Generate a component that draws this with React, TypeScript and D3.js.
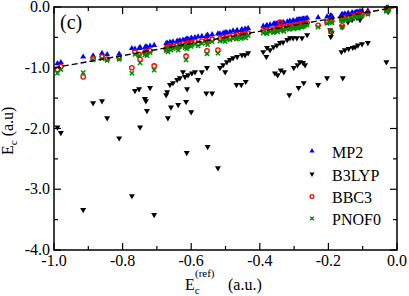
import * as d3 from 'd3';

// E_c(ref) for each system, and the correlation energy given by each method (a.u.)
const refs = [
  -0.990, -0.980, -0.915, -0.886, -0.860, -0.845, -0.810, -0.773, -0.764, -0.752,
  -0.749, -0.735, -0.732, -0.729, -0.720, -0.708, -0.673, -0.670, -0.668, -0.662,
  -0.659, -0.653, -0.641, -0.638, -0.633, -0.624, -0.618, -0.615, -0.613, -0.612,
  -0.609, -0.600, -0.598, -0.589, -0.580, -0.569, -0.554, -0.556, -0.552, -0.539,
  -0.522, -0.516, -0.507, -0.501, -0.496, -0.487, -0.478, -0.466, -0.468, -0.452,
  -0.454, -0.443, -0.441, -0.434, -0.390, -0.379, -0.381, -0.370, -0.360, -0.356,
  -0.350, -0.348, -0.341, -0.339, -0.332, -0.330, -0.320, -0.312, -0.314, -0.303,
  -0.301, -0.292, -0.290, -0.287, -0.283, -0.277, -0.274, -0.272, -0.268, -0.262,
  -0.230, -0.204, -0.195, -0.193, -0.190, -0.160, -0.162, -0.158, -0.152, -0.143,
  -0.141, -0.131, -0.129, -0.122, -0.117, -0.114, -0.108, -0.102, -0.085, -0.029,
  -0.026, -0.031,
];

const b3lyp = [
  -1.98, -2.07, -3.34, -1.58, -1.55, -1.83, -2.16, -3.11, -1.38, -1.35,
  -1.98, -1.51, -1.55, -1.71, -1.33, -3.42, -1.45, -1.40, -1.83, -1.28,
  -1.65, -1.25, -1.20, -1.61, -1.17, -1.07, -1.15, -1.56, -2.40, -1.35,
  -1.12, -1.73, -1.09, -1.07, -1.20, -1.07, -1.00, -1.42, -2.30, -1.42,
  -2.65, -1.00, -0.955, -1.07, -0.905, -0.87, -0.84, -0.82, -1.28, -0.79,
  -1.28, -0.79, -1.23, -0.76, -0.74, -0.67, -0.82, -0.71, -0.66, -1.09,
  -0.63, -1.12, -0.59, -1.04, -0.58, -1.07, -0.54, -0.51, -1.45, -0.51,
  -1.00, -0.51, -0.955, -1.33, -0.905, -0.51, -0.92, -1.25, -0.955, -0.46,
  -1.28, -1.17, -0.38, -0.49, -0.43, -0.33, -0.74, -1.17, -0.71, -0.25,
  -0.69, -0.21, -0.67, -0.66, -0.18, -0.63, -0.21, -0.61, -0.59, -0.02,
  -0.08, -0.905,
];

const mp2 = [
  -0.93, -0.91, -0.82, -0.80, -0.76, -0.78, -0.77, -0.68, -0.69, -0.68,
  -0.66, -0.67, -0.65, -0.66, -0.64, -0.63, -0.60, -0.59, -0.61, -0.58,
  -0.59, -0.57, -0.56, -0.57, -0.55, -0.54, -0.55, -0.53, -0.55, -0.52,
  -0.53, -0.51, -0.52, -0.50, -0.49, -0.48, -0.47, -0.48, -0.46, -0.45,
  -0.44, -0.44, -0.43, -0.42, -0.42, -0.41, -0.39, -0.38, -0.40, -0.37,
  -0.38, -0.36, -0.37, -0.35, -0.31, -0.30, -0.31, -0.29, -0.28, -0.27,
  -0.27, -0.28, -0.26, -0.26, -0.25, -0.26, -0.24, -0.23, -0.24, -0.22,
  -0.23, -0.21, -0.22, -0.21, -0.20, -0.20, -0.19, -0.20, -0.19, -0.18,
  -0.17, -0.16, -0.15, -0.14, -0.15, -0.12, -0.13, -0.12, -0.11, -0.10,
  -0.11, -0.09, -0.10, -0.09, -0.08, -0.08, -0.07, -0.07, -0.06, -0.01,
  -0.01, -0.02,
];

const bbc3 = [
  -1.03, -0.98, -1.15, -0.85, -0.82, -0.86, -0.84, -1.00, -0.74, -0.78,
  -0.86, -0.75, -0.73, -0.76, -0.72, -0.97, -0.69, -0.66, -0.70, -0.64,
  -0.67, -0.65, -0.63, -0.67, -0.62, -0.60, -0.63, -0.81, -0.64, -0.61,
  -0.59, -0.60, -0.58, -0.57, -0.60, -0.56, -0.72, -0.55, -0.57, -0.53,
  -0.71, -0.52, -0.50, -0.52, -0.49, -0.50, -0.47, -0.46, -0.49, -0.45,
  -0.48, -0.44, -0.46, -0.43, -0.39, -0.40, -0.38, -0.37, -0.38, -0.36,
  -0.35, -0.37, -0.25, -0.34, -0.33, -0.35, -0.32, -0.31, -0.33, -0.30,
  -0.32, -0.29, -0.31, -0.30, -0.28, -0.29, -0.27, -0.28, -0.27, -0.26,
  -0.30, -0.25, -0.22, -0.40, -0.23, -0.31, -0.19, -0.20, -0.18, -0.17,
  -0.18, -0.15, -0.16, -0.14, -0.13, -0.14, -0.12, -0.13, -0.10, -0.03,
  -0.04, -0.05,
];

const pnof0 = [
  -1.09, -1.03, -1.08, -0.87, -0.85, -0.88, -0.86, -1.09, -0.78, -0.80,
  -0.92, -0.79, -0.76, -0.80, -0.75, -1.04, -0.72, -0.70, -0.74, -0.68,
  -0.71, -0.69, -0.66, -0.71, -0.65, -0.64, -0.67, -0.87, -0.69, -0.66,
  -0.63, -0.65, -0.62, -0.61, -0.64, -0.60, -0.77, -0.59, -0.62, -0.57,
  -0.76, -0.56, -0.55, -0.57, -0.53, -0.54, -0.52, -0.50, -0.53, -0.49,
  -0.52, -0.48, -0.51, -0.47, -0.43, -0.44, -0.42, -0.41, -0.42, -0.40,
  -0.39, -0.41, -0.38, -0.38, -0.37, -0.40, -0.36, -0.35, -0.37, -0.34,
  -0.36, -0.33, -0.35, -0.34, -0.32, -0.33, -0.31, -0.32, -0.30, -0.30,
  -0.33, -0.27, -0.25, -0.41, -0.26, -0.33, -0.22, -0.23, -0.21, -0.20,
  -0.21, -0.18, -0.19, -0.17, -0.16, -0.16, -0.15, -0.15, -0.12, -0.05,
  -0.06, -0.07,
];

const legendNames = ['MP2', 'B3LYP', 'BBC3', 'PNOF0'];
const xTicks = [-1.0, -0.8, -0.6, -0.4, -0.2, 0.0];
const yTicks = [0.0, -1.0, -2.0, -3.0, -4.0];
const diagonal = [-1, 0];

const W = 409;
const H = 296;
const font = '"Times New Roman", Times, "Liberation Serif", serif';
const blue = '#0000ff';
const red = '#ff0000';
const green = '#008b00';

function Marker({ kind, x, y, s = 1 }) {
  if (kind === 0) {
    return <path d={`M${x},${y - 3.4 * s}L${x + 3 * s},${y + 1.8 * s}L${x - 3 * s},${y + 1.8 * s}Z`} fill={blue} />;
  }
  if (kind === 1) {
    return <path d={`M${x},${y + 3.4 * s}L${x + 3 * s},${y - 1.8 * s}L${x - 3 * s},${y - 1.8 * s}Z`} fill="black" />;
  }
  if (kind === 2) {
    return <circle cx={x} cy={y} r={2.2 * s} fill="none" stroke={red} strokeWidth={1.3} />;
  }
  const d = 2.1 * s;
  return (
    <path d={`M${x - d},${y - d}L${x + d},${y + d}M${x - d},${y + d}L${x + d},${y - d}`} stroke={green} strokeWidth={1.5} />
  );
}

export default function App() {
  const x = d3.scaleLinear().domain([-1, 0]).range([54, 397]);
  const y = d3.scaleLinear().domain([-4, 0]).range([250, 7]);

  const xMinor = d3.range(-1, 0.001, 0.1);
  const yMinor = d3.range(-4, 0.001, 0.5);
  const series = [mp2, b3lyp, bbc3, pnof0];

  const line = d3.line<number>().x(d => x(d)).y(d => y(d));

  const legendY = [151, 174, 196.5, 218.5];
  const txt = { fontFamily: font };

  return (
    <svg width={W} height={H} style={{ position: 'absolute', left: 0, top: 0, fontFamily: font }}>
      <rect width={W} height={H} fill="white" />

      {series.map((vals, k) => (
        <g key={k}>
          {refs.map((r, i) => (
            <Marker key={i} kind={k} x={x(r)} y={y(vals[i])} />
          ))}
        </g>
      ))}

      <path d={line(diagonal) || ''} stroke="black" strokeWidth={1.4} strokeDasharray="6,3" fill="none" />

      {/* frame */}
      <rect x={x(-1)} y={y(0)} width={x(0) - x(-1)} height={y(-4) - y(0)} fill="none" stroke="black" strokeWidth={1.5} />

      {xMinor.map((t, i) => {
        const major = i % 2 === 0;
        const len = major ? 7 : 4;
        return (
          <g key={'xt' + i} stroke="black" strokeWidth={1.2}>
            <line x1={x(t)} x2={x(t)} y1={y(-4)} y2={y(-4) - len} />
            <line x1={x(t)} x2={x(t)} y1={y(0)} y2={y(0) + len} />
          </g>
        );
      })}
      {yMinor.map((t, i) => {
        const major = i % 2 === 0;
        const len = major ? 7 : 4;
        return (
          <g key={'yt' + i} stroke="black" strokeWidth={1.2}>
            <line x1={x(-1)} x2={x(-1) + len} y1={y(t)} y2={y(t)} />
            <line x1={x(0)} x2={x(0) - len} y1={y(t)} y2={y(t)} />
          </g>
        );
      })}

      {xTicks.map(t => (
        <text key={'xl' + t} x={x(t)} y={266} fontSize={16} textAnchor="middle" style={txt}>{t.toFixed(1)}</text>
      ))}
      {yTicks.map(t => (
        <text key={'yl' + t} x={50} y={y(t) + 5} fontSize={16} textAnchor="end" style={txt}>{t.toFixed(1)}</text>
      ))}

      <text x={60} y={29} fontSize={20} style={txt}>(c)</text>

      {/* x axis title */}
      <text x={185} y={290} fontSize={16} style={txt}>
        E<tspan fontSize={11} dy={4}>c</tspan>
      </text>
      <text x={195} y={277} fontSize={11} style={txt}>(ref)</text>
      <text x={228} y={290} fontSize={16} style={txt}>(a.u.)</text>

      {/* y axis title */}
      <text transform="translate(13,155) rotate(-90)" fontSize={16} style={txt}>
        E<tspan fontSize={11} dy={4}>c</tspan>
        <tspan dy={-4} dx={4}>(a.u)</tspan>
      </text>

      {legendNames.map((n, k) => (
        <g key={n}>
          <Marker kind={k} x={312} y={legendY[k]} s={0.85} />
          <text x={332} y={legendY[k] + 6.5} fontSize={16} style={txt}>{n}</text>
        </g>
      ))}
    </svg>
  );
}
